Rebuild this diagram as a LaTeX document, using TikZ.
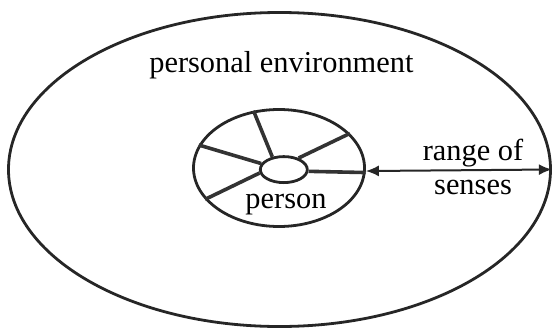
\documentclass[tikz,border=0pt]{standalone}
\usepackage{fontspec}
\setmainfont{Liberation Serif}
\usetikzlibrary{shapes.geometric, arrows.meta}
\begin{document}
\begin{tikzpicture}[x=1bp, y=1bp,
  oval/.style={draw, ellipse, line width=2.8bp, black!85, inner sep=0pt},
  spoke/.style={line width=3.6bp, black!80},
  label/.style={font=\fontsize{30.5}{33.5}\selectfont, inner sep=0pt, align=center}]
  \useasboundingbox (0, 0) rectangle (554, 331);
  % ovali
  \node [oval, minimum width=542bp, minimum height=314bp] (env) at (279.5, 161.5) {};
  \node [oval, minimum width=171bp, minimum height=117bp] (body) at (279, 163) {};
  \node [oval, minimum width=47bp, minimum height=26bp] (core) at (283.8, 161.4) {};
  % spice
  \draw [spoke] (core.132) -- (body.114);
  \draw [spoke] (core.38) -- (body.26);
  \draw [spoke] (core.-4) -- (body.-3);
  \draw [spoke] (core.165) -- (body.164);
  \draw [spoke] (core.188) -- (body.203);
  % puscica
  \draw [{Latex[length=13bp, width=11bp]}-{Latex[length=13bp, width=11bp]}, line width=2bp, black!85] (body.-2) -- (env.-0.7);
  % oznake
  \node [label, anchor=base] (envlabel) at (281.4, 258.6) {personal environment};
  \node [label, anchor=base] (personlabel) at (286, 122.5) {person};
  \node [label, anchor=base] (rangelabel) at (473, 136.7) {range of\\senses};
\end{tikzpicture}
\end{document}
